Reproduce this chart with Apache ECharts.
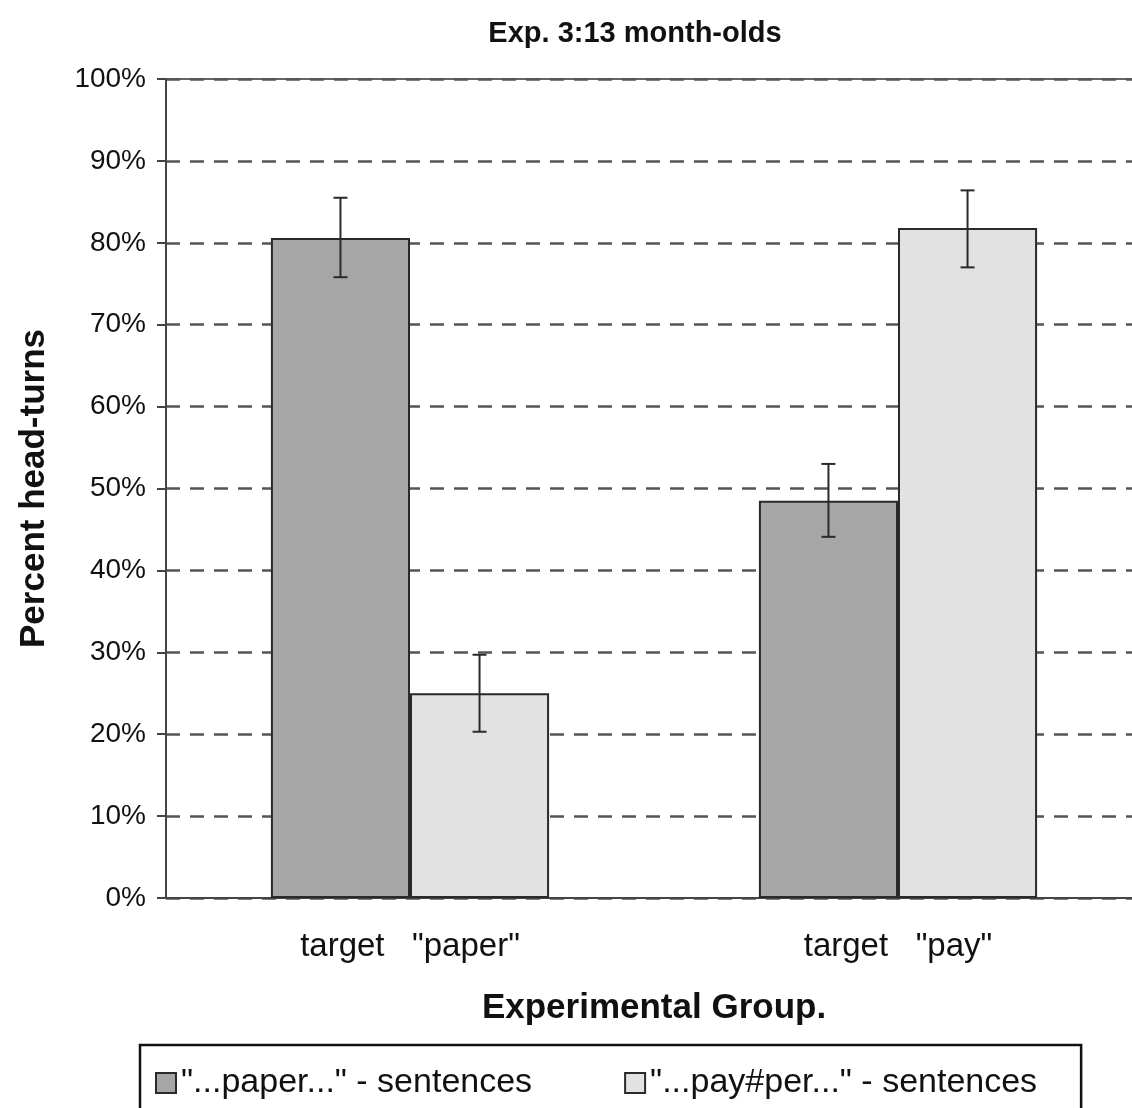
<!DOCTYPE html>
<html>
<head>
<meta charset="utf-8">
<script src="https://cdn.jsdelivr.net/npm/echarts@6/dist/echarts.min.js"></script>
<style>
html,body{margin:0;padding:0;background:#fff;}
#chart{width:1132px;height:1108px;}
</style>
</head>
<body>
<div id="chart"></div>
<script>
const categories = ['target   "paper"', 'target   "pay"'];
const seriesNames = ['"...paper..." - sentences', '"...pay#per..." - sentences'];
const paperValues = [80.6, 48.5];
const payperValues = [25.0, 81.8];
const paperErrLow = [75.8, 44.1];
const paperErrHigh = [85.5, 53.0];
const payperErrLow = [20.3, 77.0];
const payperErrHigh = [29.7, 86.4];
const yTicks = [0, 10, 20, 30, 40, 50, 60, 70, 80, 90, 100];

const FONT = '"Liberation Sans", Arial, sans-serif';
const GAP = 0.43;

function errSeries(low, high, side) {
  const data = low.map((l, i) => [i, l, high[i]]);
  return {
    type: 'custom',
    z: 10,
    silent: true,
    data: data,
    encode: { x: 0, y: [1, 2] },
    renderItem: function (params, api) {
      const i = api.value(0);
      const catW = api.size([1, 0])[0];
      const bw = catW * (1 - GAP) / 2;
      const off = side * bw / 2;
      const pLow = api.coord([i, api.value(1)]);
      const pHigh = api.coord([i, api.value(2)]);
      const x = pLow[0] + off;
      const cap = 7;
      const style = { stroke: '#2a2a2a', lineWidth: 2 };
      return {
        type: 'group',
        children: [
          { type: 'line', shape: { x1: x, y1: pLow[1], x2: x, y2: pHigh[1] }, style: style },
          { type: 'line', shape: { x1: x - cap, y1: pLow[1], x2: x + cap, y2: pLow[1] }, style: style },
          { type: 'line', shape: { x1: x - cap, y1: pHigh[1], x2: x + cap, y2: pHigh[1] }, style: style }
        ]
      };
    }
  };
}

const chart = echarts.init(document.getElementById('chart'));
chart.setOption({
  animation: false,
  backgroundColor: '#fff',
  title: {
    text: 'Exp. 3:13 month-olds',
    left: 630,
    textAlign: 'center',
    top: 14,
    textStyle: { fontFamily: FONT, fontSize: 29, fontWeight: 'bold', color: '#111' }
  },
  legend: {
    left: 140,
    top: 1045,
    orient: 'horizontal',
    itemWidth: 20,
    itemHeight: 20,
    itemGap: 92,
    padding: [21, 44, 40, 15],
    borderColor: '#111',
    borderWidth: 2.5,
    icon: 'rect',
    textStyle: { fontFamily: FONT, fontSize: 34, color: '#111' },
    data: seriesNames
  },
  grid: {
    left: 166,
    right: -10,
    top: 79,
    bottom: 1108 - 898,
    containLabel: false,
    outerBoundsMode: 'none',
    show: true,
    borderColor: '#333',
    borderWidth: 1.5,
    backgroundColor: 'transparent'
  },
  xAxis: {
    type: 'category',
    data: categories,
    axisLine: { show: true, lineStyle: { color: '#444', width: 2 } },
    axisTick: { show: false },
    axisLabel: { fontFamily: FONT, fontSize: 33, color: '#111', margin: 32 },
    name: 'Experimental Group.',
    nameLocation: 'middle',
    nameGap: 93,
    nameTextStyle: { fontFamily: FONT, fontSize: 35, fontWeight: 'bold', color: '#111' }
  },
  yAxis: {
    type: 'value',
    min: 0,
    max: 100,
    interval: 10,
    axisLine: { show: true, lineStyle: { color: '#444', width: 2 } },
    axisTick: { show: true, inside: false, length: 9, lineStyle: { color: '#444', width: 2 } },
    axisLabel: {
      fontFamily: FONT, fontSize: 28, color: '#111', margin: 20,
      formatter: function (v) { return yTicks.indexOf(v) >= 0 ? v + '%' : ''; }
    },
    splitLine: { show: true, lineStyle: { color: '#555', width: 2.5, type: [14, 10] } },
    name: 'Percent head-turns',
    nameLocation: 'middle',
    nameGap: 114,
    nameTextStyle: { fontFamily: FONT, fontSize: 35, fontWeight: 'bold', color: '#111' }
  },
  series: [
    {
      name: seriesNames[0],
      type: 'bar',
      data: paperValues,
      barGap: '0%',
      barCategoryGap: (GAP * 100) + '%',
      itemStyle: { color: '#a6a6a6', borderColor: '#2a2a2a', borderWidth: 2 }
    },
    {
      name: seriesNames[1],
      type: 'bar',
      data: payperValues,
      barGap: '0%',
      barCategoryGap: (GAP * 100) + '%',
      itemStyle: { color: '#e2e2e2', borderColor: '#2a2a2a', borderWidth: 2 }
    },
    errSeries(paperErrLow, paperErrHigh, -1),
    errSeries(payperErrLow, payperErrHigh, 1)
  ]
});
</script>
</body>
</html>
